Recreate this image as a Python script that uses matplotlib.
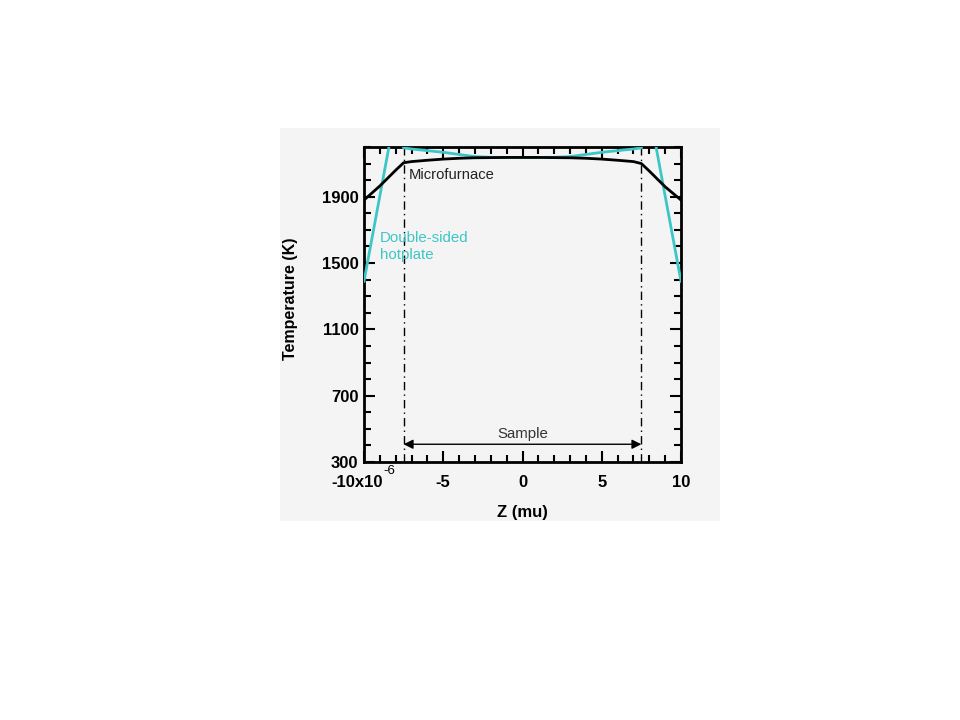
import matplotlib
matplotlib.use("Agg")
import matplotlib.pyplot as plt
from matplotlib.patches import Rectangle
from matplotlib.transforms import ScaledTranslation
from matplotlib.ticker import MultipleLocator

# ---- data (Z in micrometres, temperature in K) ----
z_furnace = [-10, -9, -8, -7.5, -7, -6, -5, -4, -3, -2, -1, 0, 1, 2, 3, 4, 5, 6, 7, 7.5, 8, 9, 10]
T_furnace = [1880, 1965, 2060, 2105, 2112, 2120, 2127, 2132, 2135, 2136, 2137, 2137, 2137, 2136, 2135,
             2132, 2127, 2120, 2112, 2100, 2055, 1960, 1880]

z_hotplate = [-10, -8, -7.5, -7, -6, -5, -4, -3, -2, -1, 0, 1, 2, 3, 4, 5, 6, 7, 7.5, 8, 10]
T_hotplate = [1390, 2420, 2195, 2188, 2178, 2168, 2155, 2142, 2138, 2137, 2137, 2137, 2138, 2142,
              2155, 2168, 2178, 2188, 2195, 2420, 1390]

sample_edges = [-7.5, 7.5]
sample_arrow_T = 407

x_ticks = [-10, -5, 0, 5, 10]
x_ticklabels = ["-10x10", "-5", "0", "5", "10"]
y_ticks = [300, 700, 1100, 1500, 1900]

plt.rcParams['font.family'] = ['Liberation Sans', 'DejaVu Sans']

BG = '#f4f4f4'
CYAN = '#3cc6c6'

fig = plt.figure(figsize=(9.6, 7.2), dpi=100)
fig.patch.set_facecolor('white')
fig.patches.append(Rectangle((280 / 960, 1 - 521 / 720), 440 / 960, 393 / 720,
                             transform=fig.transFigure, facecolor=BG, edgecolor='none', zorder=-5))

ax = fig.add_axes([364 / 960, 1 - 462 / 720, 317 / 960, 315 / 720])
ax.set_zorder(2)
ax.set_facecolor(BG)

ax.plot(z_hotplate, T_hotplate, color=CYAN, lw=2, zorder=3, clip_on=True)
ax.plot(z_furnace, T_furnace, color='black', lw=2, zorder=4, clip_on=True)

for e in sample_edges:
    ax.axvline(e, color='black', lw=1, ls=(0, (6, 3, 1, 3)), zorder=2)

ax.annotate('', xy=(sample_edges[0], sample_arrow_T), xytext=(sample_edges[1], sample_arrow_T),
            arrowprops=dict(arrowstyle='<|-|>', color='black', lw=1,
                            mutation_scale=14, shrinkA=0, shrinkB=0))
ax.text(0, 469, 'Sample', ha='center', va='center', fontsize=10.8, color='#333333')
ax.text(-7.15, 2031, 'Microfurnace', ha='left', va='center', fontsize=10.6, color='#222222')
ax.text(-9.0, 1600, 'Double-sided\nhotplate', ha='left', va='center', fontsize=10.8,
        color=CYAN, linespacing=1.25)

ax.set_xlim(-10, 10)
ax.set_ylim(300, 2200)
ax.set_xticks(x_ticks)
ax.set_xticklabels(x_ticklabels)
ax.set_yticks(y_ticks)
ax.xaxis.set_minor_locator(MultipleLocator(1))
ax.yaxis.set_minor_locator(MultipleLocator(100))

ax.tick_params(which='both', direction='in', top=True, right=True, width=1.5, colors='black')
ax.tick_params(which='major', length=8)
ax.tick_params(which='minor', length=5)
ax.tick_params(axis='x', which='major', pad=9)
ax.tick_params(axis='y', which='major', pad=4)
for lbl in ax.get_xticklabels() + ax.get_yticklabels():
    lbl.set_fontsize(12)
    lbl.set_fontweight('bold')

first = ax.get_xticklabels()[0]
first.set_transform(first.get_transform() + ScaledTranslation(-5 / 72, 0, fig.dpi_scale_trans))
fig.text(389 / 960, 1 - 471 / 720, '-6', ha='center', va='center', fontsize=9.5, zorder=5)

for sp in ax.spines.values():
    sp.set_linewidth(2)

fig.text(291 / 960, 1 - 299 / 720, 'Temperature (K)', rotation=90, ha='center', va='center',
         fontsize=11.5, fontweight='bold')
fig.text(522 / 960, 1 - 512 / 720, 'Z (mu)', ha='center', va='center',
         fontsize=12, fontweight='bold')

fig.savefig('out.png', dpi=100, facecolor='white')
